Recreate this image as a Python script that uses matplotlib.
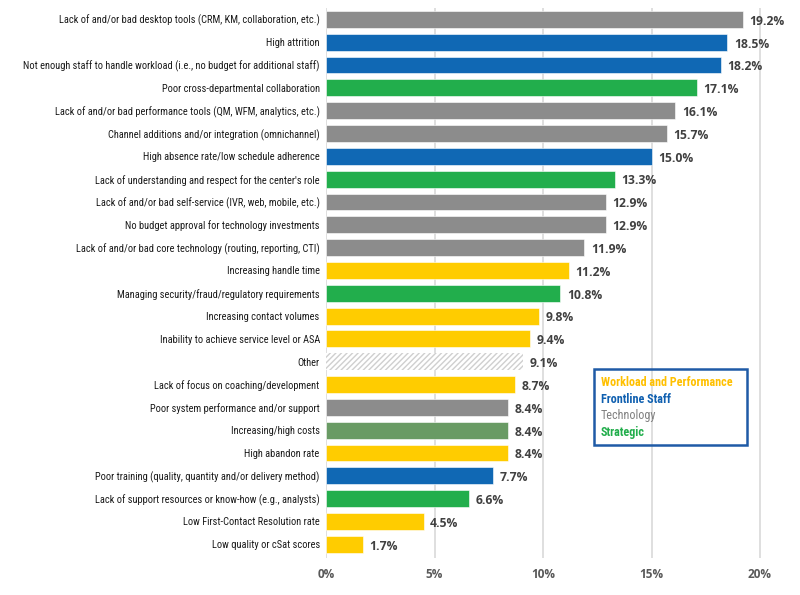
import matplotlib
matplotlib.use("Agg")
import matplotlib.pyplot as plt
from matplotlib.font_manager import FontProperties, fontManager

categories = [
    "Lack of and/or bad desktop tools (CRM, KM, collaboration, etc.)",
    "High attrition",
    "Not enough staff to handle workload (i.e., no budget for additional staff)",
    "Poor cross-departmental collaboration",
    "Lack of and/or bad performance tools (QM, WFM, analytics, etc.)",
    "Channel additions and/or integration (omnichannel)",
    "High absence rate/low schedule adherence",
    "Lack of understanding and respect for the center's role",
    "Lack of and/or bad self-service (IVR, web, mobile, etc.)",
    "No budget approval for technology investments",
    "Lack of and/or bad core technology (routing, reporting, CTI)",
    "Increasing handle time",
    "Managing security/fraud/regulatory requirements",
    "Increasing contact volumes",
    "Inability to achieve service level or ASA",
    "Other",
    "Lack of focus on coaching/development",
    "Poor system performance and/or support",
    "Increasing/high costs",
    "High abandon rate",
    "Poor training (quality, quantity and/or delivery method)",
    "Lack of support resources or know-how (e.g., analysts)",
    "Low First-Contact Resolution rate",
    "Low quality or cSat scores",
]
values = [19.2, 18.5, 18.2, 17.1, 16.1, 15.7, 15.0, 13.3, 12.9, 12.9, 11.9,
          11.2, 10.8, 9.8, 9.4, 9.1, 8.7, 8.4, 8.4, 8.4, 7.7, 6.6, 4.5, 1.7]
groups = ["tech", "staff", "staff", "strat", "tech", "tech", "staff", "strat",
          "tech", "tech", "tech", "work", "strat", "work", "work", "other",
          "work", "tech", "cost", "work", "staff", "strat", "work", "work"]

colors = {
    "tech": "#8c8c8c",
    "staff": "#1068b4",
    "strat": "#22ae4c",
    "work": "#ffcc00",
    "cost": "#699b64",
    "other": "white",
}

legend_items = [("Workload and Performance", "#ffc000", "bold"),
                ("Frontline Staff", "#1060b0", "bold"),
                ("Technology", "#808080", "normal"),
                ("Strategic", "#22ae4c", "bold")]


def pick_narrow():
    # any installed condensed / narrow face, regular weight first
    prefs = ["Liberation Sans Narrow", "Roboto Condensed", "Open Sans Condensed",
             "Noto Sans", "DejaVu Sans", "Roboto", "Open Sans", "Lato", "Inter"]
    found = []
    for f in fontManager.ttflist:
        tag = (f.fname + " " + str(f.stretch)).lower()
        if ("condensed" in tag or "narrow" in tag) and "semi" not in tag \
                and "extra" not in tag and "ultra" not in tag \
                and f.style == "normal":
            found.append(f)
    if not found:
        return None, None

    def rank(f):
        name = f.name
        try:
            p = next(i for i, n in enumerate(prefs) if n in name)
        except StopIteration:
            p = 99
        w = f.weight if isinstance(f.weight, int) else 400
        return (p, abs(w - 400))

    reg = sorted(found, key=rank)[0]
    bold = [f for f in found if f.name == reg.name and
            (f.weight if isinstance(f.weight, int) else 400) >= 600]
    bold = sorted(bold, key=lambda f: f.weight)[0] if bold else reg
    return FontProperties(fname=reg.fname), FontProperties(fname=bold.fname)


narrow, narrow_bold = pick_narrow()
if narrow is None:
    narrow = FontProperties(family="Liberation Sans")
    narrow_bold = FontProperties(family="Liberation Sans", weight="bold")

num_font = FontProperties(family=["Open Sans", "DejaVu Sans"], weight="bold")

fig = plt.figure(figsize=(8, 5.95), dpi=100)
ax = fig.add_axes([326 / 800, 1 - 558 / 595, (781.7 - 326) / 800, 550 / 595])

ypos = list(range(len(categories)))
value_texts = []
for y, v, g in zip(ypos, values, groups):
    if g == "other":
        ax.barh(y, v, height=0.74, color="white", edgecolor="#cfcfcf",
                hatch="//////", linewidth=0)
    else:
        ax.barh(y, v, height=0.74, color=colors[g], edgecolor="white",
                linewidth=0.4)
    t = ax.text(v + 0.3, y + 0.08, f"{v:.1f}%", va="center", ha="left",
                fontproperties=num_font, fontsize=10, color="#404040")
    value_texts.append(t)

ax.set_ylim(len(categories) - 0.4, -0.5)
ax.set_xlim(0, 21)
ax.set_yticks(ypos)
ylabels = ax.set_yticklabels(categories, fontproperties=narrow,
                             color="#1a1a1a")
ax.set_xticks([0, 5, 10, 15, 20])
xlabels = ax.set_xticklabels(["0%", "5%", "10%", "15%", "20%"],
                             fontproperties=num_font, fontsize=10,
                             color="#595959")
ax.tick_params(axis="both", length=0)
ax.tick_params(axis="x", pad=7)
ax.tick_params(axis="y", pad=4.5)
ax.grid(axis="x", color="#d9d9d9", linewidth=1.2)
ax.set_axisbelow(True)
for s in ax.spines.values():
    s.set_visible(False)

# legend box
lx0, ly0, lx1, ly1 = 594 / 800, 1 - 445 / 595, 747 / 800, 1 - 369 / 595
fig.patches.append(plt.Rectangle((lx0, ly0), lx1 - lx0, ly1 - ly0,
                                 transform=fig.transFigure, fill=False,
                                 edgecolor="#1f5aa6", linewidth=1.8))
legend_texts = []
for i, (txt, c, w) in enumerate(legend_items):
    fp = narrow_bold if w == "bold" else narrow
    t = fig.text(601 / 800, 1 - (383 + i * 16.5) / 595, txt, color=c,
                 fontproperties=fp, va="center")
    legend_texts.append(t)


def fit(texts, ref, target, cap):
    # scale a group of texts so that text `ref` has the width seen in the reference
    r = fig.canvas.get_renderer()
    for t in texts:
        t.set_fontsize(10)
    w = ref.get_window_extent(r).width
    s = min(10 * target / w, cap)
    for t in texts:
        t.set_fontsize(s)


widest = max(ylabels, key=lambda t: t.get_window_extent(fig.canvas.get_renderer()).width)
fit(ylabels, widest, 293, 10)
fit(legend_texts, legend_texts[0], 132, 10)
fit(value_texts, value_texts[0], 35, 10)
fit(xlabels, xlabels[-1], 24, 10)

fig.savefig("out.png", dpi=100)
